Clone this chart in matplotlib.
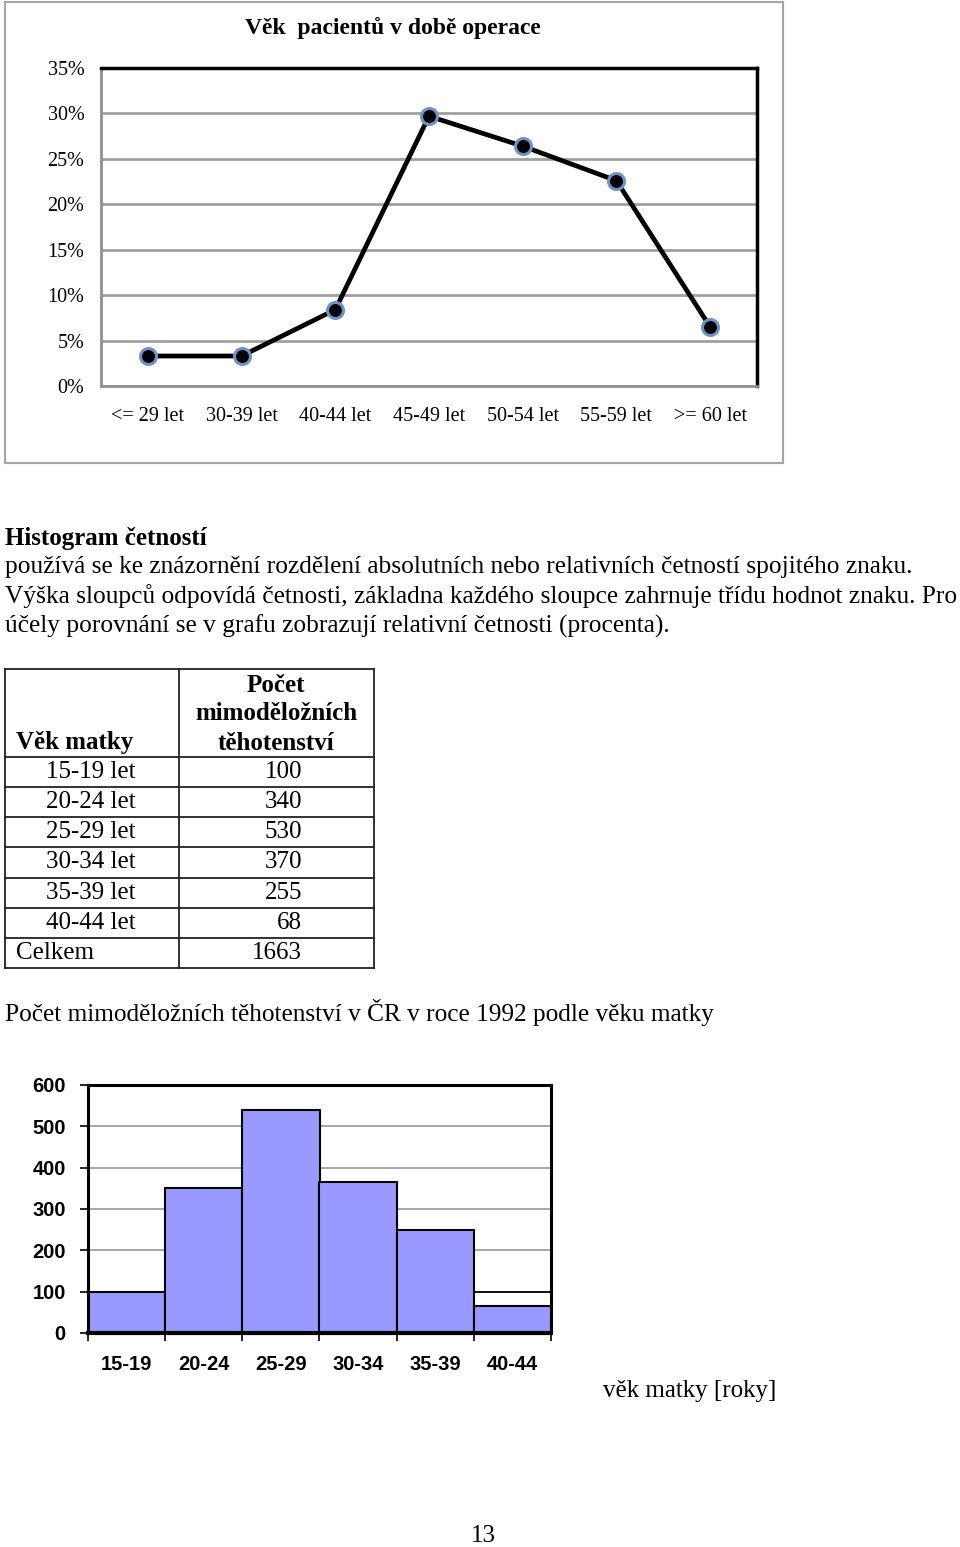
import numpy as np
import matplotlib.pyplot as plt
from matplotlib.patches import Rectangle

plt.rcParams['font.family'] = ['Liberation Serif', 'DejaVu Serif']

# top chart: age of patients at the time of surgery (percent)
line_labels = ['<= 29 let', '30-39 let', '40-44 let', '45-49 let', '50-54 let', '55-59 let', '>= 60 let']
line_values = [3.3, 3.3, 8.4, 29.7, 26.4, 22.6, 6.5]
line_ticks = [0, 5, 10, 15, 20, 25, 30, 35]

# table
table_ages = ['15-19 let', '20-24 let', '25-29 let', '30-34 let', '35-39 let', '40-44 let']
table_counts = [100, 340, 530, 370, 255, 68]
table_total = 1663

# histogram
hist_labels = ['15-19', '20-24', '25-29', '30-34', '35-39', '40-44']
hist_values = [100, 350, 540, 365, 250, 65]
hist_ticks = [0, 100, 200, 300, 400, 500, 600]

paragraph = ['používá se ke znázornění rozdělení absolutních nebo relativních četností spojitého znaku.',
             'Výška sloupců odpovídá četnosti, základna každého sloupce zahrnuje třídu hodnot znaku. Pro',
             'účely porovnání se v grafu zobrazují relativní četnosti (procenta).']

W, H = 960, 1547
fig = plt.figure(figsize=(W / 100, H / 100), dpi=100)
fig.patch.set_facecolor('white')

# page overlay in pixel coordinates
pg = fig.add_axes([0, 0, 1, 1])
pg.set_xlim(0, W)
pg.set_ylim(H, 0)
pg.axis('off')

def pix_axes(x0, y0, x1, y1):
    return fig.add_axes([x0 / W, 1 - y1 / H, (x1 - x0) / W, (y1 - y0) / H])

# ---- top line chart ----
pg.add_patch(Rectangle((5, 2), 778, 461, fill=False, ec='#a6a6a6', lw=1.5))
pg.text(393, 28, 'Věk  pacientů v době operace', ha='center', va='center',
        fontsize=17, fontweight='bold')

ax1 = pix_axes(101, 68, 757, 386)
x = np.arange(len(line_labels))
ax1.plot(x, line_values, color='black', lw=3.4, marker='o', ms=11.5,
         mfc='black', mec='#6f93c8', mew=2.2, zorder=3)
ax1.set_xlim(-0.5, len(line_labels) - 0.5)
ax1.set_ylim(0, 35)
ax1.set_yticks(line_ticks)
ax1.set_yticklabels([f'{t}%' for t in line_ticks], fontsize=14.5)
ax1.set_xticks(x)
ax1.set_xticklabels(line_labels, fontsize=14.5)
ax1.tick_params(axis='x', length=0, pad=15)
ax1.tick_params(axis='y', length=0, pad=12)
ax1.grid(axis='y', color='#a0a0a0', lw=2)
ax1.set_axisbelow(True)
for s in ['left', 'bottom']:
    ax1.spines[s].set_color('#909090')
    ax1.spines[s].set_linewidth(2)
for s in ['top', 'right']:
    ax1.spines[s].set_color('black')
    ax1.spines[s].set_linewidth(2.5)

# ---- text block ----
pg.text(5, 538, 'Histogram četností', ha='left', va='center', fontsize=18, fontweight='bold')
for i, line in enumerate(paragraph):
    pg.text(5, 567 + i * 29.5, line, ha='left', va='center', fontsize=18.3)

# ---- table ----
row_edges = [669, 757, 787, 817, 847, 878, 908, 938, 968]
for y in row_edges:
    pg.plot([5, 374], [y, y], color='#222222', lw=1.3)
for xv in [5, 179, 374]:
    pg.plot([xv, xv], [669, 968], color='#222222', lw=1.3)
pg.text(16, 743, 'Věk matky', ha='left', va='center', fontsize=18, fontweight='bold')
for j, t in enumerate(['Počet', 'mimoděložních', 'těhotenství']):
    pg.text(276, 685 + j * 29, t, ha='center', va='center', fontsize=18, fontweight='bold')
for i, (a, c) in enumerate(zip(table_ages, table_counts)):
    yc = (row_edges[i + 1] + row_edges[i + 2]) / 2
    pg.text(91, yc, a, ha='center', va='center', fontsize=18)
    pg.text(302, yc, str(c), ha='right', va='center', fontsize=18)
pg.text(16, 953, 'Celkem', ha='left', va='center', fontsize=18)
pg.text(302, 953, str(table_total), ha='right', va='center', fontsize=18)

pg.text(5, 1013, 'Počet mimoděložních těhotenství v ČR v roce 1992 podle věku matky',
        ha='left', va='center', fontsize=18.2)

# ---- histogram ----
ax2 = pix_axes(88, 1085, 551, 1333)
xb = np.arange(len(hist_labels))
ax2.bar(xb, hist_values, width=1.0, color='#9999ff', edgecolor='black', lw=1.5, zorder=2)
ax2.set_xlim(-0.5, len(hist_labels) - 0.5)
ax2.set_ylim(0, 600)
ax2.set_yticks(hist_ticks)
ax2.set_yticklabels([str(t) for t in hist_ticks], fontsize=14.5, fontweight='bold',
                    family='Liberation Sans')
ax2.set_xticks(xb)
ax2.set_xticklabels(hist_labels, fontsize=14.5, fontweight='bold', family='Liberation Sans')
ax2.set_xticks(np.arange(-0.5, len(hist_labels)), minor=True)
ax2.tick_params(axis='x', which='major', length=0, pad=16)
ax2.tick_params(axis='x', which='minor', length=6, width=1.2, color='black')
ax2.tick_params(axis='y', length=6, width=1.2, pad=10)
ax2.set_axisbelow(True)
for t in hist_ticks[1:-1]:
    ax2.axhline(t, color='black' if t == 100 else '#a0a0a0', lw=1.3, zorder=0)
for s in ['top', 'right', 'left', 'bottom']:
    ax2.spines[s].set_color('black')
    ax2.spines[s].set_linewidth(2.2)
ax2.spines['bottom'].set_linewidth(3)

pg.text(603, 1391, 'věk matky [roky]', ha='left', va='center', fontsize=18)
pg.text(483, 1536, '13', ha='center', va='center', fontsize=18)

fig.savefig('out.png', dpi=100, facecolor='white')
